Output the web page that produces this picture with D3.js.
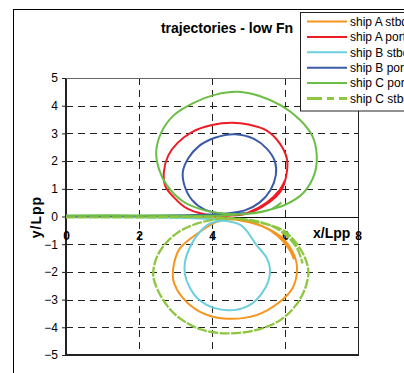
<!DOCTYPE html>
<html>
<head>
<meta charset="utf-8">
<script src="https://cdn.jsdelivr.net/npm/d3@7"></script>
<style>
  body { margin: 0; background: #fff; }
  text { font-family: "Liberation Sans", Arial, sans-serif; fill: #000; }
</style>
</head>
<body>
<div id="chart"></div>
<script>
// trajectories, x/Lpp and y/Lpp
const seriesNames = ["ship A stbd", "ship A port", "ship B stbd", "ship B port", "ship C port", "ship C stbd"];
const seriesColors = ["#F7941D", "#ED1C24", "#6CCFDD", "#3A5BA8", "#6BBE45", "#8DC63F"];

const shipAStbd = [[0, 0], [2, -0.01], [3.5, -0.02], [4.3, -0.05], [5.0, -0.2], [5.5, -0.42], [5.95, -0.8],
  [6.2, -1.25], [6.32, -1.7], [6.32, -2.11], [6.2, -2.6], [5.86, -3.08], [5.22, -3.56], [4.31, -3.68],
  [3.67, -3.44], [3.2, -2.94], [2.94, -2.3], [2.96, -1.7], [3.12, -1.15], [3.67, -0.55], [4.13, -0.19],
  [4.7, -0.1], [5.3, -0.3], [5.8, -0.7], [6.1, -1.15], [6.25, -1.55]];
const shipAPort = [[0, 0], [2, 0.01], [3.5, 0.01], [4.4, 0.03], [5.0, 0.12], [5.5, 0.45], [5.9, 0.95],
  [6.05, 1.6], [6.05, 2.1], [5.85, 2.65], [5.5, 3.1], [5.0, 3.32], [4.54, 3.38], [4.0, 3.3], [3.45, 3.05],
  [3.05, 2.65], [2.8, 2.2], [2.68, 1.6], [2.72, 1.1], [2.95, 0.7], [3.3, 0.3], [3.8, 0.08], [4.4, 0.03],
  [5.0, 0.15], [5.5, 0.5], [5.85, 0.95], [6.0, 1.3]];
const shipBStbd = [[0, 0], [2, -0.03], [3.5, -0.06], [4.2, -0.12], [4.8, -0.32], [5.22, -1.03], [5.5, -1.5],
  [5.59, -1.9], [5.54, -2.35], [5.35, -2.8], [5.04, -3.19], [4.58, -3.38], [4.05, -3.3], [3.6, -2.95],
  [3.4, -2.59], [3.26, -2.1], [3.26, -1.63], [3.4, -1.1], [3.67, -0.55], [3.95, -0.25], [4.3, -0.15],
  [4.7, -0.25]];
const shipBPort = [[0, 0], [2, 0.02], [3.5, 0.05], [4.3, 0.1], [4.9, 0.22], [5.3, 0.5], [5.6, 0.95],
  [5.75, 1.5], [5.72, 2.0], [5.5, 2.45], [5.15, 2.8], [4.63, 2.97], [4.1, 2.85], [3.65, 2.55], [3.35, 2.1],
  [3.2, 1.6], [3.25, 1.1], [3.45, 0.6], [3.8, 0.25], [4.3, 0.1], [4.9, 0.12]];
const shipCPort = [[0, 0.04], [2, 0.04], [4.0, 0.03], [4.8, 0.08], [5.5, 0.22], [6.0, 0.42], [6.5, 0.85],
  [6.8, 1.5], [6.87, 2.2], [6.75, 2.9], [6.4, 3.5], [5.9, 4.0], [5.3, 4.35], [4.72, 4.5], [4.1, 4.4],
  [3.5, 4.1], [2.95, 3.65], [2.6, 3.0], [2.47, 2.3], [2.55, 1.7], [2.75, 1.15], [3.2, 0.55], [3.8, 0.22],
  [4.4, 0.1], [5.0, 0.1], [5.6, 0.25], [5.9, 0.5]];
const shipCStbd = [[0, -0.03], [2, -0.03], [4.0, -0.03], [4.8, -0.1], [5.4, -0.25], [5.95, -0.5], [6.3, -0.95],
  [6.55, -1.5], [6.64, -2.0], [6.55, -2.6], [6.3, -3.2], [5.86, -3.75], [5.2, -4.1], [4.4, -4.22],
  [3.7, -4.08], [3.2, -3.75], [2.85, -3.35], [2.55, -2.75], [2.39, -2.15], [2.45, -1.6], [2.65, -1.1],
  [3.03, -0.61], [3.6, -0.25], [4.3, -0.08], [5.0, -0.12], [5.6, -0.32], [6.05, -0.7], [6.35, -1.2],
  [6.48, -1.7]];
const seriesData = [shipAStbd, shipAPort, shipBStbd, shipBPort, shipCPort, shipCStbd];

const xTicks = [0, 2, 4, 6, 8];
const yTicks = [-5, -4, -3, -2, -1, 0, 1, 2, 3, 4, 5];

const totalWidth = 404, totalHeight = 373;
const plot = { left: 66, right: 358, top: 78, bottom: 355 };

const svg = d3.select("#chart").append("svg")
    .attr("width", totalWidth)
    .attr("height", totalHeight);

// outer chart frame (runs off the right and bottom edge)
svg.append("rect")
    .attr("x", 13.5).attr("y", 9.5)
    .attr("width", 420).attr("height", 400)
    .attr("fill", "#fff").attr("stroke", "#000").attr("stroke-width", 1);

const x = d3.scaleLinear().domain([0, 8]).range([plot.left, plot.right]);
const y = d3.scaleLinear().domain([-5, 5]).range([plot.bottom, plot.top]);

// grid
const grid = svg.append("g").attr("stroke", "#222").attr("stroke-width", 1).attr("stroke-dasharray", "7,5");
grid.selectAll(".hgrid").data(yTicks.filter(d => d !== 0 && d !== -5))
    .enter().append("line")
    .attr("x1", plot.left).attr("x2", plot.right)
    .attr("y1", d => Math.round(y(d)) + 0.5).attr("y2", d => Math.round(y(d)) + 0.5);
grid.selectAll(".vgrid").data(xTicks.filter(d => d > 0 && d < 8))
    .enter().append("line")
    .attr("y1", plot.top).attr("y2", plot.bottom)
    .attr("x1", d => Math.round(x(d)) + 0.5).attr("x2", d => Math.round(x(d)) + 0.5);

// plot borders
svg.append("line").attr("x1", plot.right + 0.5).attr("x2", plot.right + 0.5)
    .attr("y1", plot.top).attr("y2", plot.bottom).attr("stroke", "#222");
svg.append("line").attr("x1", plot.left).attr("x2", plot.right + 1)
    .attr("y1", plot.bottom).attr("y2", plot.bottom).attr("stroke", "#222").attr("stroke-width", 2);
svg.append("line").attr("x1", plot.left).attr("x2", plot.left)
    .attr("y1", plot.top).attr("y2", plot.bottom + 1).attr("stroke", "#222").attr("stroke-width", 2);
svg.append("line").attr("x1", plot.left).attr("x2", plot.right)
    .attr("y1", plot.top + 0.5).attr("y2", plot.top + 0.5).attr("stroke", "#666");

// y axis
const yAxis = d3.axisLeft(y).tickValues(yTicks).tickSize(4).tickPadding(4).tickFormat(d3.format("d"));
const yAxisG = svg.append("g").attr("transform", `translate(${plot.left},0)`).call(yAxis);
yAxisG.select(".domain").remove();
yAxisG.selectAll("line").attr("stroke", "#222");
yAxisG.selectAll("text").attr("font-size", "12px").attr("font-family", "Liberation Sans, Arial, sans-serif");

// x axis at y = 0
svg.append("line").attr("x1", plot.left).attr("x2", plot.right)
    .attr("y1", Math.round(y(0)) + 0.5).attr("y2", Math.round(y(0)) + 0.5)
    .attr("stroke", "#111").attr("stroke-width", 1);
const xAxis = d3.axisBottom(x).tickValues(xTicks).tickSize(0).tickPadding(15).tickFormat(d3.format("d"));
const xAxisG = svg.append("g").attr("transform", `translate(0,${y(0)})`).call(xAxis);
xAxisG.select(".domain").remove();
xAxisG.selectAll("text").attr("font-size", "12px").attr("font-weight", "bold")
    .attr("font-family", "Liberation Sans, Arial, sans-serif");

// trajectories
const line = d3.line().x(d => x(d[0])).y(d => y(d[1])).curve(d3.curveCatmullRom.alpha(0.5));
seriesData.forEach((pts, i) => {
    svg.append("path")
        .attr("d", line(pts))
        .attr("fill", "none")
        .attr("stroke", seriesColors[i])
        .attr("stroke-width", i === 5 ? 2.3 : 2)
        .attr("stroke-dasharray", i === 5 ? "10,1.5" : null)
        .attr("stroke-linejoin", "round");
});

// axis titles
svg.append("text")
    .attr("x", 313).attr("y", 238)
    .attr("font-size", "14px").attr("font-weight", "bold")
    .text("x/Lpp");
svg.append("text")
    .attr("transform", "translate(41,217) rotate(-90)")
    .style("text-anchor", "middle")
    .attr("font-size", "14px").attr("font-weight", "bold").attr("letter-spacing", "1px")
    .text("y/Lpp");

// title
svg.append("text")
    .attr("x", 227).attr("y", 33)
    .style("text-anchor", "middle")
    .attr("font-size", "14px").attr("font-weight", "bold")
    .text("trajectories - low Fn");

// legend (box runs off the right edge, as in the original)
const legend = svg.append("g");
legend.append("rect")
    .attr("x", 300.5).attr("y", 12.5).attr("width", 120).attr("height", 98.5)
    .attr("fill", "#fff").attr("stroke", "#222");
const rowY = d3.scaleLinear().domain([0, 5]).range([21.5, 98.5]);
seriesNames.forEach((name, i) => {
    legend.append("line")
        .attr("x1", 307).attr("x2", 347)
        .attr("y1", rowY(i)).attr("y2", rowY(i))
        .attr("stroke", seriesColors[i])
        .attr("stroke-width", i === 5 ? 3 : 2)
        .attr("stroke-dasharray", i === 5 ? "15,5,7,5,8" : null);
    legend.append("text")
        .attr("x", 350).attr("y", rowY(i)).attr("dy", "0.35em")
        .attr("font-size", "12px")
        .text(name);
});
</script>
</body>
</html>
